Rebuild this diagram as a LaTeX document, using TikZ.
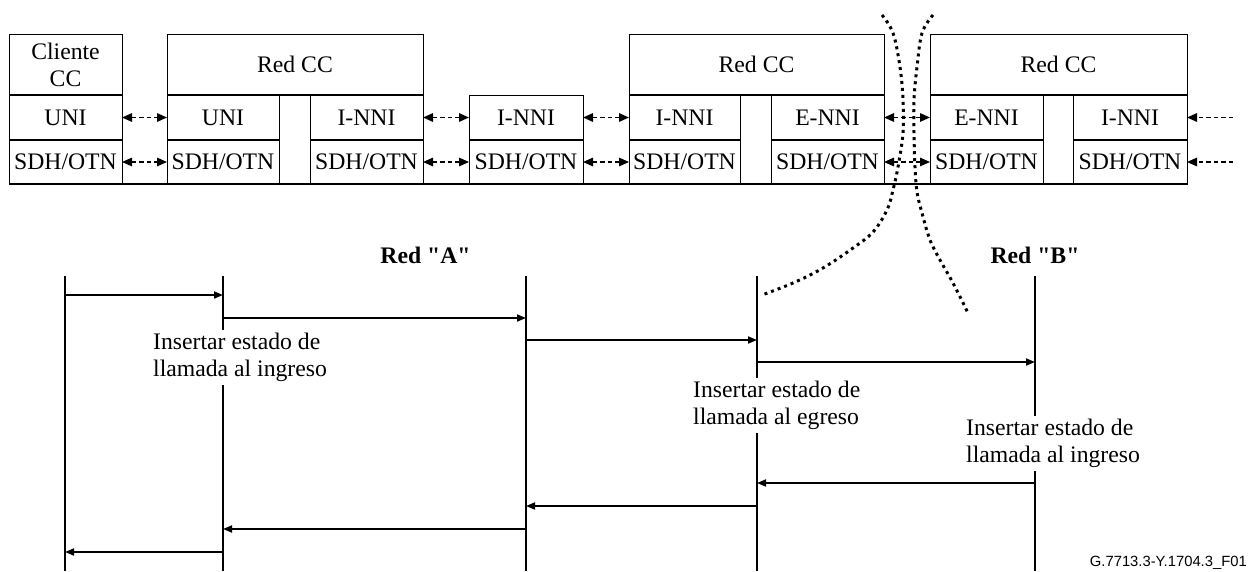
\documentclass[tikz,border=0pt]{standalone}
\usepackage{fontspec}
\setmainfont{Liberation Serif}
% same face without the TeX input mapping, so " stays a straight quote
\newfontfamily\headfont{Liberation Serif}
\newfontfamily\figidfont{Liberation Sans}
\usetikzlibrary{arrows.meta}

% a rectangular cell given by its corners (x1,y1) (x2,y2)
\newcommand\cellbox[6]{%
  \node[cell, minimum width={#4pt-#2pt}, minimum height={#5pt-#3pt}]
    (#1) at ({(#2+#4)/2},{(#3+#5)/2}) {#6};}

\begin{document}
\begin{tikzpicture}[x=1pt,y=-1pt,
  txt/.style={font=\fontsize{23.7pt}{27pt}\selectfont},
  head/.style={font=\headfont\fontsize{23.7pt}{27pt}\selectfont\bfseries, inner sep=0pt},
  cell/.style={txt, draw, line width=0.9pt, inner sep=0pt, outer sep=0pt, align=center},
  sep/.style={line width=1.6pt},
  link/.style={line width=1.5pt, dash pattern=on 4.5pt off 3pt,
    {Triangle[length=10pt,width=8.5pt]}-{Triangle[length=10pt,width=8.5pt]}},
  inlink/.style={line width=1.5pt, dash pattern=on 4.5pt off 3pt,
    -{Triangle[length=10pt,width=8.5pt]}},
  life/.style={line width=1.8pt},
  msg/.style={line width=1.8pt, -{Triangle[length=9pt,width=7pt]}},
  note/.style={txt, fill=white, inner sep=3pt, align=left},
  cut/.style={line width=3pt, dash pattern=on 3pt off 4pt}
]
\useasboundingbox (0,0) rectangle (1251,571);

% ---- protocol stacks ----
\cellbox{cli}{9}{34}{122}{95}{Cliente\\CC}
\cellbox{cliU}{9}{95}{122}{140}{UNI}
\cellbox{cliS}{9}{140}{122}{184}{SDH/OTN}

\cellbox{r1}{167}{34}{423}{95}{Red CC}
\cellbox{r1a}{167}{95}{279}{140}{UNI}
\cellbox{r1aS}{167}{140}{279}{184}{SDH/OTN}
\cellbox{r1g}{279}{95}{310}{184}{}
\cellbox{r1b}{310}{95}{423}{140}{I-NNI}
\cellbox{r1bS}{310}{140}{423}{184}{SDH/OTN}

\cellbox{m}{469}{95}{583}{140}{I-NNI}
\cellbox{mS}{469}{140}{583}{184}{SDH/OTN}

\cellbox{r2}{629}{34}{884}{95}{Red CC}
\cellbox{r2a}{629}{95}{740}{140}{I-NNI}
\cellbox{r2aS}{629}{140}{740}{184}{SDH/OTN}
\cellbox{r2g}{740}{95}{771}{184}{}
\cellbox{r2b}{771}{95}{884}{140}{E-NNI}
\cellbox{r2bS}{771}{140}{884}{184}{SDH/OTN}

\cellbox{r3}{930}{34}{1187}{95}{Red CC}
\cellbox{r3a}{930}{95}{1043}{140}{E-NNI}
\cellbox{r3aS}{930}{140}{1043}{184}{SDH/OTN}
\cellbox{r3g}{1043}{95}{1073}{184}{}
\cellbox{r3b}{1073}{95}{1187}{140}{I-NNI}
\cellbox{r3bS}{1073}{140}{1187}{184}{SDH/OTN}

% heavier layer separators and base line
\foreach \c in {cli,r1,r2,r3,cliU,r1a,r1b,m,r2a,r2b,r3a,r3b}
  \draw[sep] (\c.south west) -- (\c.south east);
\draw[sep] (cliS.south west) -- (r3bS.south east);

% peer links
\draw[link] (cliU) -- (r1a);
\draw[link] (cliS) -- (r1aS);
\draw[link] (r1b) -- (m);
\draw[link] (r1bS) -- (mS);
\draw[link] (m) -- (r2a);
\draw[link] (mS) -- (r2aS);
\draw[link] (r2b) -- (r3a);
\draw[link] (r2bS) -- (r3aS);
\coordinate (inU) at (1233,117.5);
\coordinate (inS) at (1233,162);
\draw[inlink] (inU) -- (r3b);
\draw[inlink] (inS) -- (r3bS);

% ---- message sequence ----
\node[head, anchor=base] (netA) at (425.5,263) {Red "A"};
\node[head, anchor=base] (netB) at (1035,263) {Red "B"};

\coordinate (L1) at (65,276);
\coordinate (L2) at (223,276);
\coordinate (L3) at (526,276);
\coordinate (L4) at (757,276);
\coordinate (L5) at (1035,276);
\coordinate (bot) at (0,571);
\foreach \l in {L1,L2,L3,L4,L5}
  \draw[life] (\l) -- (\l |- bot);

\foreach \y/\a/\b in {295/L1/L2, 318/L2/L3, 340/L3/L4, 362/L4/L5,
                      483/L5/L4, 506/L4/L3, 529/L3/L2, 552/L2/L1} {
  \coordinate (row) at (0,\y);
  \draw[msg] (\a |- row) -- (\b |- row);
}

\node[note, anchor=west] (n1) at (150,357.3) {Insertar estado de\\llamada al ingreso};
\node[note, anchor=west] (n2) at (690,405.3) {Insertar estado de\\llamada al egreso};
\node[note, anchor=west] (n3) at (963,443.3) {Insertar estado de\\llamada al ingreso};

% ---- network boundary cuts ----
\draw[cut] plot[smooth, tension=0.6] coordinates {(882,15) (893,33) (900,67) (903,100)
  (903,133) (898,167) (893,190) (887,210) (873,232) (853,248) (823,268) (793,283) (762,295)};
\draw[cut] plot[smooth, tension=0.6] coordinates {(933,15) (922,33) (917,67) (914,100)
  (914,133) (915,167) (917,192) (922,213) (930,240) (940,260) (953,283) (968,313)};

\node[font=\figidfont\fontsize{14.8pt}{16pt}\selectfont, anchor=base east, inner sep=0pt]
  (figid) at (1247,566.5) {G.7713.3-Y.1704.3\_F01};
\end{tikzpicture}
\end{document}
